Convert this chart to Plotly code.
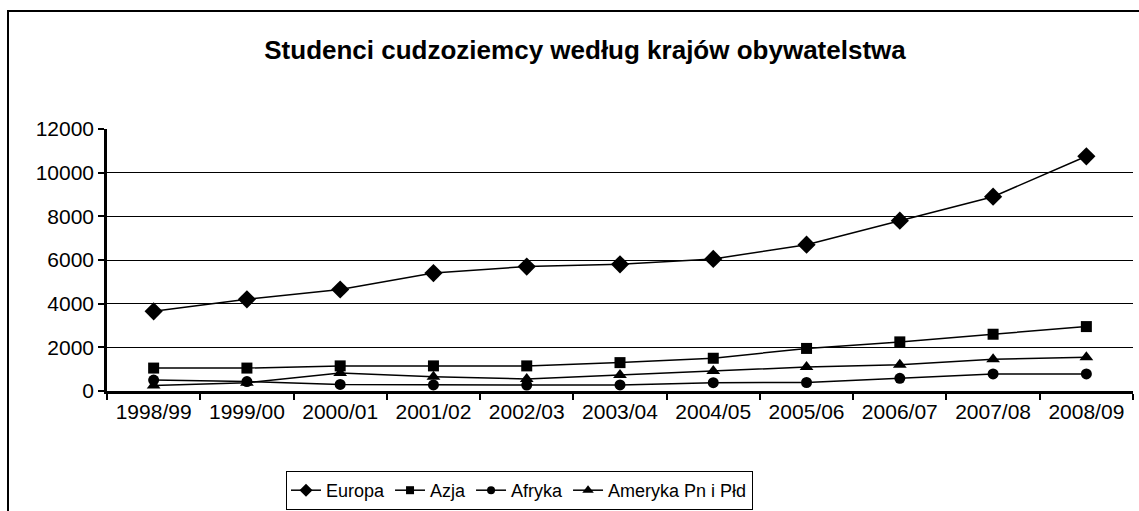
import plotly.graph_objects as go

years = ["1998/99", "1999/00", "2000/01", "2001/02", "2002/03", "2003/04",
         "2004/05", "2005/06", "2006/07", "2007/08", "2008/09"]
europa = [3650, 4200, 4650, 5400, 5700, 5800, 6050, 6700, 7800, 8900, 10750]
azja = [1050, 1050, 1150, 1150, 1150, 1300, 1500, 1950, 2250, 2600, 2950]
afryka = [500, 430, 300, 280, 270, 280, 380, 390, 580, 780, 780]
ameryka = [250, 380, 830, 650, 550, 730, 920, 1100, 1200, 1450, 1550]

series = [
    ("Europa", europa, "diamond", 14, 10),
    ("Azja", azja, "square", 11, 8),
    ("Afryka", afryka, "circle", 11, 8),
    ("Ameryka Pn i Płd", ameryka, "triangle-up", 12, 10),
]

W, H = 1139, 511
L, R, T, B = 107, 6, 129, 120
pw = W - L - R
ph = H - T - B

fig = go.Figure()
for name, vals, sym, sz, lsz in series:
    fig.add_trace(go.Scatter(
        x=years, y=vals, name=name, mode="lines+markers",
        line=dict(color="black", width=1.5),
        marker=dict(symbol=sym, size=sz, color="black"),
        showlegend=False, legendgroup=name,
    ))
for name, vals, sym, sz, lsz in series:
    fig.add_trace(go.Scatter(
        x=[None], y=[None], name=name, mode="lines+markers",
        line=dict(color="black", width=1.5),
        marker=dict(symbol=sym, size=lsz, color="black"),
        showlegend=True, legendgroup=name,
    ))

def px_x(p):
    return (p - L) / pw

def px_y(p):
    return (H - B - p) / ph

fig.update_layout(
    width=W, height=H,
    margin=dict(l=L, r=R, t=T, b=B, autoexpand=False),
    paper_bgcolor="white", plot_bgcolor="white",
    font=dict(family="Liberation Sans, Arial, sans-serif", color="black"),
    title=dict(
        text="<b>Studenci cudzoziemcy według krajów obywatelstwa</b>",
        font=dict(size=26, color="black"),
        x=585 / W, xanchor="center", xref="container",
        y=1 - 50 / H, yanchor="middle", yref="container",
    ),
    xaxis=dict(
        type="category", range=[-0.5, 10.5],
        showline=True, linecolor="black", linewidth=2.5,
        ticks="outside", tickson="boundaries", ticklen=6, tickwidth=2,
        tickcolor="black", showgrid=False,
        tickfont=dict(size=21, color="black"),
    ),
    yaxis=dict(
        range=[0, 12000], dtick=2000, tickformat="d",
        showline=True, linecolor="black", linewidth=2.5,
        ticks="outside", ticklen=6, tickwidth=2, tickcolor="black",
        showgrid=True, gridcolor="black", gridwidth=1,
        zeroline=False,
        tickfont=dict(size=21, color="black"),
    ),
    legend=dict(
        orientation="h",
        xref="container", yref="container",
        x=519.5 / W, xanchor="center",
        y=1 - 471 / H, yanchor="top",
        bordercolor="black", borderwidth=1,
        font=dict(size=18, color="black"),
        bgcolor="white",
        tracegroupgap=0,
    ),
    showlegend=True,
    shapes=[
        dict(type="rect", xref="paper", yref="paper",
             x0=px_x(8), x1=px_x(W + 10), y0=px_y(H + 10), y1=px_y(11),
             line=dict(color="black", width=2), fillcolor="rgba(0,0,0,0)",
             layer="below"),
    ],
)

fig.write_html("out.html", config={"displayModeBar": False},
               post_script="document.body.style.margin='0';")
